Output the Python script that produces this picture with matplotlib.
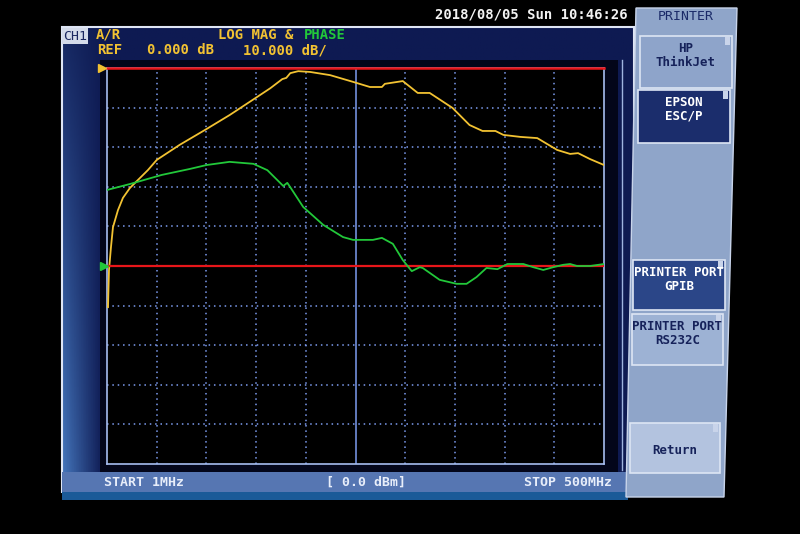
import numpy as np
import matplotlib.pyplot as plt
import matplotlib.transforms as mtransforms
from matplotlib.patches import Rectangle, Polygon

# LOG MAG trace (yellow): frequency in MHz, level in dB
mag_freq = [2, 3, 5, 7, 12, 17, 24, 32, 42, 51, 74, 99, 124, 150, 165, 177,
            181, 185, 193, 205, 225, 248, 265, 277, 280, 298, 313, 325, 348,
            365, 378, 391, 399, 416, 433, 453, 466, 474, 486, 500]
mag_db = [-60.4, -51.0, -45.2, -40.2, -35.9, -32.8, -30.3, -28.3, -25.8,
          -23.2, -19.4, -15.7, -11.9, -7.6, -5.1, -2.8, -2.5, -1.3, -0.8,
          -1.0, -1.8, -3.5, -4.8, -4.8, -4.0, -3.3, -6.3, -6.3, -10.1, -14.4,
          -15.9, -15.9, -16.9, -17.4, -17.7, -20.7, -21.7, -21.5, -23.0, -24.5]

# PHASE trace (green): divisions above its reference line
phase_freq = [1, 24, 56, 84, 101, 124, 148, 162, 172, 178, 182, 185, 198, 218,
              238, 248, 268, 277, 288, 298, 307, 315, 318, 335, 352, 362, 372,
              382, 393, 403, 419, 429, 439, 449, 459, 466, 473, 486, 500]
phase_div = [1.92, 2.07, 2.30, 2.45, 2.55, 2.63, 2.58, 2.42, 2.17, 2.02, 2.10,
             1.99, 1.49, 1.04, 0.73, 0.66, 0.66, 0.71, 0.56, 0.15, -0.13,
             -0.03, -0.05, -0.35, -0.45, -0.45, -0.28, -0.05, -0.08, 0.05,
             0.05, -0.03, -0.10, -0.03, 0.03, 0.05, 0.0, 0.0, 0.05]

start_mhz, stop_mhz = 1, 500
ref_db, scale_db = 0.0, 10.0
ndiv = 10

softkeys = ["HP\nThinkJet", "EPSON\nESC/P", "PRINTER PORT\nGPIB",
            "PRINTER PORT\nRS232C", "Return"]

W, H = 800, 534
MONO = "DejaVu Sans Mono"
YEL = "#f2c232"
GRN = "#22c83a"
RED = "#e8161a"
GRID = "#7d9cf0"

fig = plt.figure(figsize=(8, 5.34), dpi=100, facecolor="black")
bg = fig.add_axes([0, 0, 1, 1])
bg.set_xlim(0, W)
bg.set_ylim(H, 0)
bg.axis("off")

# screen panel with a blue gradient
ny, nx = 120, 240
yy, xx = np.mgrid[0:1:ny * 1j, 0:1:nx * 1j]
dark = np.array([14, 26, 82]) / 255
light = np.array([70, 120, 190]) / 255
w = np.clip(1 - xx * 572 / 40, 0, 1) * (0.15 + 0.85 * yy)
img = dark + (light - dark) * w[..., None]
bg.imshow(img, extent=(62, 634, 492, 27), aspect="auto", zorder=0)
bg.add_patch(Rectangle((62, 27), 572, 465, fill=False, ec="#dfe6f5", lw=1.5, zorder=1))
bg.add_patch(Rectangle((100, 60), 518, 412, fc="#03061a", ec="none", zorder=1))
bg.plot([622, 622], [60, 470], color="#9fb4e0", lw=1, zorder=1)
bg.add_patch(Rectangle((62, 472), 566, 20, fc="#5676b2", ec="none", zorder=1))
bg.add_patch(Rectangle((62, 492), 566, 8, fc="#1b5a98", ec="none", zorder=1))

# header texts
bg.add_patch(Rectangle((62, 28), 26, 16, fc="#d4dbea", ec="none", zorder=2))
bg.text(75, 36.5, "CH1", color="#1a2760", family=MONO, fontsize=9.5,
        ha="center", va="center", zorder=3)
bg.text(96, 35, "A/R", color=YEL, family=MONO, weight="bold", fontsize=10, va="center")
bg.text(218, 35, "LOG MAG &", color=YEL, family=MONO, weight="bold", fontsize=10, va="center")
bg.text(304, 35, "PHASE", color=GRN, family=MONO, weight="bold", fontsize=10, va="center")
bg.text(97, 50, "REF", color=YEL, family=MONO, weight="bold", fontsize=10, va="center")
bg.text(147, 50, "%.3f dB" % ref_db, color=YEL, family=MONO, weight="bold", fontsize=10, va="center")
bg.text(243, 50, "%.3f dB/" % scale_db, color=YEL, family=MONO, weight="bold", fontsize=10, va="center")
bg.text(628, 15, "2018/08/05 Sun 10:46:26", color="#f2f2f2", family=MONO,
        weight="bold", fontsize=10, ha="right", va="center")

# bottom status line
bg.text(104, 482, "START %dMHz" % start_mhz, color="#e8eefa", family=MONO,
        weight="bold", fontsize=9.5, va="center")
bg.text(366, 482, "[ 0.0 dBm]", color="#e8eefa", family=MONO,
        weight="bold", fontsize=9.5, ha="center", va="center")
bg.text(612, 482, "STOP %dMHz" % stop_mhz, color="#e8eefa", family=MONO,
        weight="bold", fontsize=9.5, ha="right", va="center")

# softkey panel
bg.add_patch(Polygon([(636, 8), (737, 8), (724, 497), (626, 497)],
                     closed=True, fc="#8fa5c9", ec="#c8d4ea", lw=1, zorder=1))
bg.text(686, 16, "PRINTER", color="#1a2a68", family=MONO, fontsize=9.5,
        ha="center", va="center", zorder=3)
keys = [(640, 36, 92, 52, "#8ea4ca", "#16225a"),
        (638, 90, 92, 53, "#1b2d6c", "white"),
        (633, 260, 92, 50, "#2b4688", "white"),
        (632, 314, 91, 51, "#9db2d4", "#16225a"),
        (630, 423, 90, 50, "#b3c3df", "#16225a")]
for (x, y, kw, kh, fc, tc), label in zip(keys, softkeys):
    bg.add_patch(Rectangle((x, y), kw, kh, fc=fc, ec="#dde5f4", lw=1.2, zorder=2))
    bg.add_patch(Rectangle((x + kw - 7, y + 1), 5, 8, fc="#c9d4ea", ec="none", zorder=3))
    ty = y + 19 if label.count("\n") else y + 27
    bg.text(x + kw / 2, ty, label, color=tc, family=MONO, weight="bold",
            fontsize=9, ha="center", va="center", linespacing=1.1, zorder=3)

# measurement grid
ax = fig.add_axes([107 / W, (H - 464) / H, 497 / W, 396 / H])
ax.set_facecolor("black")
top_db = ref_db
bot_db = ref_db - ndiv * scale_db
ax.set_xlim(start_mhz, stop_mhz)
ax.set_ylim(bot_db, top_db)
ax.set_xticks([])
ax.set_yticks([])
for s in ax.spines.values():
    s.set_color("#a6bdf0")
    s.set_linewidth(1.2)
xs = np.linspace(start_mhz, stop_mhz, ndiv + 1)
ys = np.linspace(bot_db, top_db, ndiv + 1)
for i, xv in enumerate(xs[1:-1], 1):
    if i == ndiv // 2:
        ax.axvline(xv, color=GRID, lw=1.1, zorder=1)
    else:
        ax.axvline(xv, color=GRID, lw=1.1, ls=(0, (1, 2.5)), zorder=1)
for yv in ys[1:-1]:
    ax.axhline(yv, color=GRID, lw=1.1, ls=(0, (1, 2.5)), zorder=1)

ax.axhline(ref_db, color=RED, lw=1.8, zorder=3, clip_on=False)
ax.plot(mag_freq, mag_db, color=YEL, lw=1.3, zorder=4)
off = mtransforms.offset_copy(ax.transData, fig=fig, x=-5, y=0, units="dots")
ax.plot([start_mhz], [ref_db], marker=">", color=YEL, ms=6, transform=off,
        clip_on=False, zorder=5)

ax2 = ax.twinx()
ax2.set_ylim(-ndiv / 2, ndiv / 2)
ax2.set_yticks([])
ax2.axis("off")
ax2.axhline(0, color=RED, lw=1.6, zorder=2)
ax2.plot(phase_freq, phase_div, color=GRN, lw=1.3, zorder=3)
off2 = mtransforms.offset_copy(ax2.transData, fig=fig, x=-3, y=0, units="dots")
ax2.plot([start_mhz], [0], marker=">", color=GRN, ms=6, transform=off2,
         clip_on=False, zorder=5)

fig.savefig("out.png", dpi=100, facecolor="black")
